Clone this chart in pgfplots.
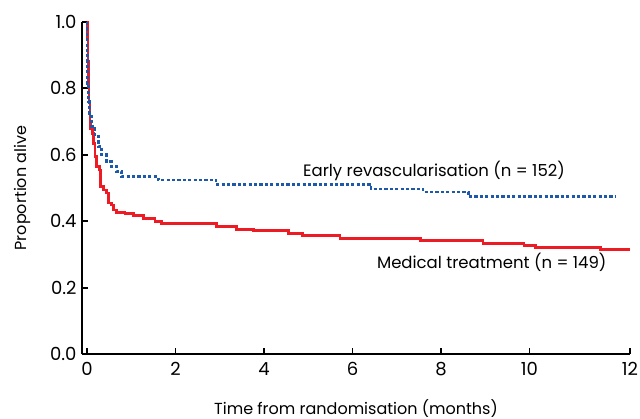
\documentclass[border=0pt]{standalone}
\usepackage{fontspec}
\setmainfont{Poppins}
\usepackage{pgfplots}
\pgfplotsset{compat=1.18}
\definecolor{medred}{RGB}{237,28,36}
\definecolor{revblue}{RGB}{30,88,168}
\begin{document}
\begin{tikzpicture}
\begin{axis}[
  scale only axis,
  width=548bp, height=332bp,
  xmin=-0.113, xmax=12.271,
  ymin=0, ymax=1,
  axis x line=bottom, axis y line=left,
  axis line style={-, line width=2.6bp, black},
  xtick={0,2,4,6,8,10,12.271},
  xticklabels={0,2,4,6,8,10,12},
  ytick={0,0.2,0.4,0.6,0.8,1.0},
  yticklabel style={xshift=-2bp, /pgf/number format/fixed, /pgf/number format/fixed zerofill, /pgf/number format/precision=1},
  /pgf/number format/assume math mode=true,
  tick align=inside,
  major tick length=6bp,
  tick style={black, line width=1.8bp},
  font=\fontsize{16.5bp}{19bp}\selectfont,
  ticklabel style={font=\fontsize{18bp}{20bp}\selectfont},
  xticklabel style={yshift=-5bp},
  xlabel={Time from randomisation (months)},
  ylabel={Proportion alive},
  every axis x label/.style={at={(axis description cs:0.5,-0.1627)}, anchor=center, font=\fontsize{16bp}{19bp}\selectfont},
  every axis y label/.style={at={(axis description cs:-0.1095,0.5)}, rotate=90, anchor=center, font=\fontsize{16bp}{19bp}\selectfont},
  clip=false,
]
\addplot[const plot, color=medred, line width=2.8bp] coordinates {
(0,1.0) (0.011,0.95) (0.023,0.88) (0.034,0.815) (0.045,0.76) (0.068,0.70)
(0.084,0.68) (0.129,0.665) (0.142,0.635) (0.181,0.594) (0.219,0.564)
(0.278,0.554) (0.310,0.504) (0.368,0.494) (0.445,0.485) (0.481,0.455)
(0.558,0.449) (0.594,0.434) (0.671,0.427) (0.859,0.422) (1.046,0.416)
(1.272,0.409) (1.537,0.398) (1.688,0.392) (2.931,0.384) (3.383,0.376)
(3.758,0.372) (4.549,0.363) (4.875,0.357) (5.718,0.349) (7.537,0.341)
(8.949,0.334) (9.876,0.327) (10.136,0.321) (11.605,0.315) (12.271,0.315)
};
\addplot[const plot, color=revblue, line width=2.6bp, dash pattern=on 3.2bp off 2.2bp] coordinates {
(0,1.0) (0.0,0.9) (0.011,0.815) (0.034,0.76) (0.052,0.715) (0.106,0.685)
(0.181,0.655) (0.255,0.625) (0.332,0.60) (0.445,0.579) (0.558,0.564)
(0.671,0.549) (0.784,0.534) (1.611,0.524) (2.915,0.511) (6.418,0.497)
(7.593,0.488) (8.621,0.475) (11.932,0.475)
};
\node[anchor=base west, inner sep=0pt] at (axis cs:4.88,0.536) {Early revascularisation (n = 152)};
\node[anchor=base west, inner sep=0pt] at (axis cs:6.55,0.259) {Medical treatment (n = 149)};
\end{axis}
\pgfresetboundingbox
\path (-82bp,-65bp) rectangle (558bp,354bp);
\end{tikzpicture}
\end{document}
